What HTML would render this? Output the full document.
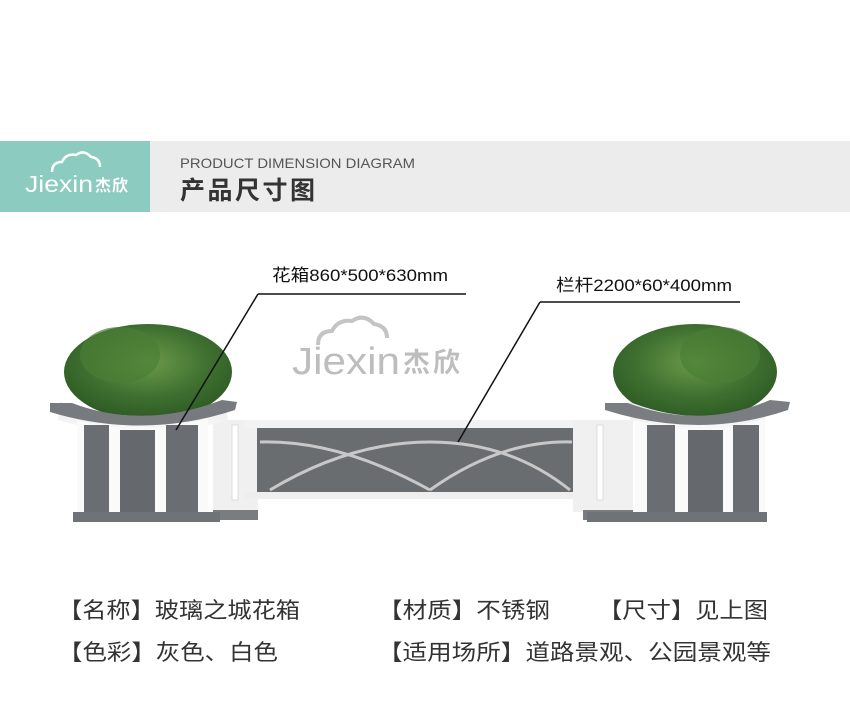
<!DOCTYPE html>
<html><head><meta charset="utf-8"><style>
html,body{margin:0;padding:0;background:#fff;width:850px;height:708px;overflow:hidden}
svg{display:block}
text{font-family:"Liberation Sans","Noto Sans CJK SC",sans-serif}
</style></head><body>
<svg width="850" height="708" viewBox="0 0 850 708" xmlns="http://www.w3.org/2000/svg">
<defs>
<radialGradient id="leaf" cx="50%" cy="40%" r="60%">
<stop offset="0" stop-color="#6c9a4a"/><stop offset="0.6" stop-color="#3f7030"/><stop offset="1" stop-color="#2d5a24"/>
</radialGradient>
<linearGradient id="rim" x1="0" y1="0" x2="0" y2="1"><stop offset="0" stop-color="#e8e8e8"/><stop offset="1" stop-color="#fafafa"/></linearGradient>
</defs>
<!-- header -->
<rect x="0" y="141" width="150" height="71" fill="#8ccbbf"/>
<rect x="150" y="141" width="700" height="71" fill="#ececec"/>
<path d="M52 172 q0-10 10-10 q4-9 14-7 q8-6 15 2 q9 1 9 10" fill="none" stroke="#fff" stroke-width="2.5"/>
<text x="25" y="192" font-size="23" fill="#fff" textLength="68" lengthAdjust="spacingAndGlyphs">Jiexin</text>
<text x="95" y="191" font-size="16" font-weight="bold" fill="#fff" textLength="33">杰欣</text>
<text x="180" y="168" font-size="14" fill="#555" textLength="235" lengthAdjust="spacingAndGlyphs">PRODUCT DIMENSION DIAGRAM</text>
<text x="180" y="199" font-size="25" font-weight="bold" fill="#333" textLength="135">产品尺寸图</text>
<!-- watermark -->
<path d="M318 345 q0-14 14-14 q6-12 20-10 q12-8 22 3 q13 2 13 14" fill="none" stroke="#c4c4c4" stroke-width="4"/>
<text x="292" y="374" font-size="38" fill="#bdbdbd" textLength="108" lengthAdjust="spacingAndGlyphs">Jiexin</text>
<text x="403" y="372" font-size="27" font-weight="bold" fill="#bdbdbd" textLength="57">杰欣</text>
<!-- fence -->
<rect x="213" y="420" width="45" height="92" fill="#f0f0f0"/>
<rect x="232" y="425" width="6" height="75" fill="#fff" stroke="#ddd"/>
<rect x="213" y="510" width="45" height="10" fill="#7a7d80"/>
<rect x="244" y="420" width="360" height="8" fill="#f2f2f2"/>
<rect x="257" y="428" width="316" height="64" fill="#6a6d70"/>
<rect x="244" y="492" width="360" height="7" fill="#eee"/>
<rect x="573" y="420" width="60" height="92" fill="#f0f0f0"/>
<rect x="597" y="425" width="6" height="75" fill="#fff" stroke="#ddd"/>
<rect x="583" y="510" width="50" height="10" fill="#7a7d80"/>
<g fill="none" stroke="#c8c8c8" stroke-width="3">
<path d="M260 442 Q340 440 430 490"/><path d="M270 490 Q350 442 430 442 Q510 442 570 490"/><path d="M430 490 Q500 440 572 442"/>
</g>
<!-- left planter -->
<ellipse cx="148" cy="372" rx="84" ry="48" fill="url(#leaf)"/>
<ellipse cx="120" cy="355" rx="40" ry="28" fill="#4a7d35" opacity=".7"/>
<path d="M60 402 Q143 430 225 402 L228 420 Q143 445 58 420Z" fill="url(#rim)"/>
<path d="M50 403 L72 403 Q143 430 222 400 L237 402 L235 410 Q143 440 50 412Z" fill="#777a7e"/>
<path d="M77 420 Q143 440 208 418 L208 512 L77 512Z" fill="#fafafa"/>
<rect x="84" y="425" width="25" height="88" fill="#6a6d71"/>
<rect x="120" y="430" width="35" height="83" fill="#65686c"/>
<rect x="166" y="425" width="32" height="88" fill="#6a6d71"/>
<rect x="73" y="512" width="147" height="10" fill="#6f7276"/>
<!-- right planter -->
<ellipse cx="695" cy="372" rx="82" ry="48" fill="url(#leaf)"/>
<ellipse cx="720" cy="355" rx="40" ry="28" fill="#4a7d35" opacity=".7"/>
<path d="M630 402 Q700 430 765 402 L765 420 Q700 445 630 420Z" fill="url(#rim)"/>
<path d="M605 403 L628 403 Q700 430 770 400 L790 402 L788 410 Q700 440 605 410Z" fill="#7a7d81"/>
<path d="M635 420 Q700 440 765 418 L765 512 L635 512Z" fill="#fafafa"/>
<rect x="647" y="425" width="28" height="88" fill="#6a6d71"/>
<rect x="688" y="430" width="35" height="83" fill="#65686c"/>
<rect x="733" y="425" width="26" height="88" fill="#6a6d71"/>
<rect x="587" y="512" width="180" height="10" fill="#6f7276"/>
<!-- labels -->
<text x="272" y="281" font-size="17" fill="#111" textLength="176" lengthAdjust="spacingAndGlyphs">花箱860*500*630mm</text>
<line x1="258" y1="294" x2="466" y2="294" stroke="#111" stroke-width="1.5"/>
<line x1="258" y1="294" x2="176" y2="430" stroke="#111" stroke-width="1.5"/>
<text x="556" y="291" font-size="17" fill="#111" textLength="176" lengthAdjust="spacingAndGlyphs">栏杆2200*60*400mm</text>
<line x1="540" y1="302" x2="740" y2="302" stroke="#111" stroke-width="1.5"/>
<line x1="540" y1="302" x2="458" y2="442" stroke="#111" stroke-width="1.5"/>
<!-- bottom text -->
<g font-size="22" fill="#333">
<text x="58" y="618" textLength="242" lengthAdjust="spacingAndGlyphs">【名称】玻璃之城花箱</text>
<text x="378" y="618" textLength="172" lengthAdjust="spacingAndGlyphs">【材质】不锈钢</text>
<text x="598" y="618" textLength="170" lengthAdjust="spacingAndGlyphs">【尺寸】见上图</text>
<text x="58" y="660" textLength="220" lengthAdjust="spacingAndGlyphs">【色彩】灰色、白色</text>
<text x="378" y="660" textLength="393" lengthAdjust="spacingAndGlyphs">【适用场所】道路景观、公园景观等</text>
</g>
</svg>
</body></html>
